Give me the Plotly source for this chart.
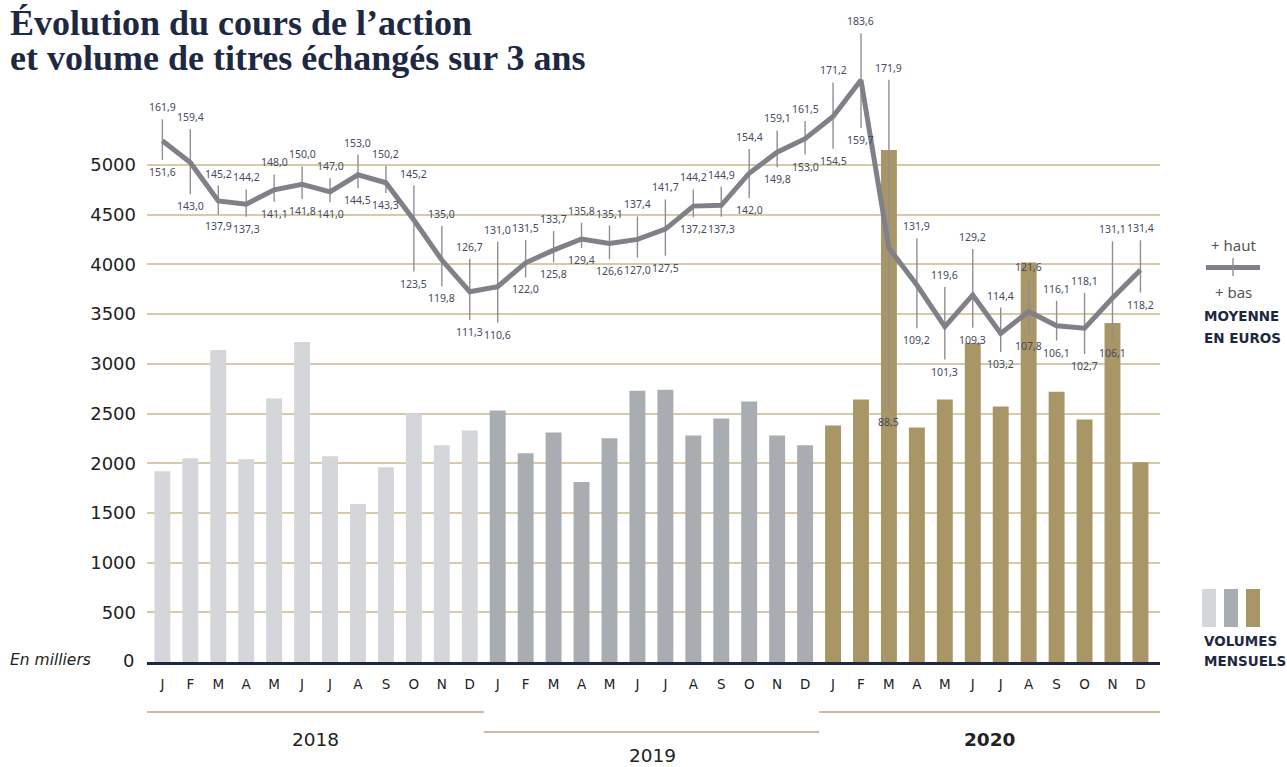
import plotly.graph_objects as go

# ---------------- DATA ----------------
months = ["J", "F", "M", "A", "M", "J", "J", "A", "S", "O", "N", "D"] * 3
years = ["2018", "2019", "2020"]

volumes_2018 = [1920, 2050, 3140, 2040, 2650, 3220, 2070, 1590, 1960, 2500, 2180, 2330]
volumes_2019 = [2530, 2100, 2310, 1810, 2250, 2730, 2740, 2280, 2450, 2620, 2280, 2180]
volumes_2020 = [2380, 2640, 5150, 2360, 2640, 3210, 2570, 4020, 2720, 2440, 3410, 2010]

price_avg = [156.5, 151.0, 141.3, 140.5, 144.1, 145.5, 143.6, 147.9, 145.9, 136.5, 126.4, 118.4,
             119.7, 125.7, 128.9, 131.7, 130.6, 131.6, 134.2, 140.0, 140.2, 148.3, 153.6, 157.0,
             162.6, 171.8, 129.4, 120.1, 109.6, 117.6, 107.9, 113.4, 109.8, 109.2, 116.8, 123.9]
price_high = [161.9, 159.4, 145.2, 144.2, 148.0, 150.0, 147.0, 153.0, 150.2, 145.2, 135.0, 126.7,
              131.0, 131.5, 133.7, 135.8, 135.1, 137.4, 141.7, 144.2, 144.9, 154.4, 159.1, 161.5,
              171.2, 183.6, 171.9, 131.9, 119.6, 129.2, 114.4, 121.6, 116.1, 118.1, 131.1, 131.4]
price_low = [151.6, 143.0, 137.9, 137.3, 141.1, 141.8, 141.0, 144.5, 143.3, 123.5, 119.8, 111.3,
             110.6, 122.0, 125.8, 129.4, 126.6, 127.0, 127.5, 137.2, 137.3, 142.0, 149.8, 153.0,
             154.5, 159.7, 88.5, 109.2, 101.3, 109.3, 103.2, 107.8, 106.1, 102.7, 106.1, 118.2]

y_ticks = [500, 1000, 1500, 2000, 2500, 3000, 3500, 4000, 4500, 5000]

# ---------------- STYLE ----------------
C_2018, C_2019, C_2020 = "#d5d6d9", "#a9acb1", "#a89667"
C_LINE = "#808088"
C_WHISK = "#8e8f94"
C_GRID = "#d6caa8"
C_NAVY = "#1e2842"
C_TXT = "#222222"
C_LBL = "#454a5e"
GOLD_LINE = "#b8a77a"
SANS = "DejaVu Sans"

W, H = 1287, 767
PL, PR, PT, PB = 147, 1160, 20, 662


def fx(xp):
    return (xp - PL) / (PR - PL)


def fy(yp):
    return (PB - yp) / (PB - PT)


def fr(v):
    return f"{v:.1f}".replace(".", ",")


n = len(months)
xs = list(range(n))
YMAX = 6459
Y2MIN, Y2MAX = 25.0, 186.95

fig = go.Figure()

# bars per year
for k, (vals, col) in enumerate([(volumes_2018, C_2018), (volumes_2019, C_2019), (volumes_2020, C_2020)]):
    fig.add_trace(go.Bar(x=xs[12 * k:12 * (k + 1)], y=vals, marker_color=col, width=0.57,
                         marker_line_width=0, showlegend=False, hoverinfo="skip"))

# whiskers
wx, wy = [], []
for i in xs:
    wx += [i, i, None]
    wy += [price_low[i], price_high[i], None]
fig.add_trace(go.Scatter(x=wx, y=wy, yaxis="y2", mode="lines",
                         line=dict(color=C_WHISK, width=1.4), showlegend=False, hoverinfo="skip"))

# average line
fig.add_trace(go.Scatter(x=xs, y=price_avg, yaxis="y2", mode="lines",
                         line=dict(color=C_LINE, width=5), showlegend=False))

annotations = []
for i in xs:
    annotations.append(dict(x=i, y=price_high[i], xref="x", yref="y2", text=fr(price_high[i]),
                            showarrow=False, yanchor="bottom", yshift=3,
                            font=dict(family="Noto Sans", size=10.5, color=C_LBL)))
    annotations.append(dict(x=i, y=price_low[i], xref="x", yref="y2", text=fr(price_low[i]),
                            showarrow=False, yanchor="top", yshift=-3,
                            font=dict(family="Noto Sans", size=10.5, color=C_LBL)))

# title
annotations.append(dict(x=fx(8), y=fy(23), xref="paper", yref="paper", xanchor="left", yanchor="middle",
                        text="<b>Évolution du cours de l’action</b>", showarrow=False,
                        font=dict(family="Liberation Serif", size=36, color=C_NAVY)))
annotations.append(dict(x=fx(8), y=fy(58), xref="paper", yref="paper", xanchor="left", yanchor="middle",
                        text="<b>et volume de titres échangés sur 3 ans</b>", showarrow=False,
                        font=dict(family="Liberation Serif", size=36, color=C_NAVY)))

# y zero + unit
annotations.append(dict(x=fx(136), y=fy(660), xref="paper", yref="paper", xanchor="right", yanchor="middle",
                        text="0", showarrow=False, font=dict(family=SANS, size=18, color=C_TXT)))
annotations.append(dict(x=fx(8), y=fy(660), xref="paper", yref="paper", xanchor="left", yanchor="middle",
                        text="<i>En milliers</i>", showarrow=False,
                        font=dict(family=SANS, size=15.5, color=C_TXT)))

# years
year_pos = [(315, 739, False), (652, 756, False), (990, 739, True)]
for yname, (xp, yp, bold) in zip(years, year_pos):
    annotations.append(dict(x=fx(xp), y=fy(yp), xref="paper", yref="paper", xanchor="center", yanchor="middle",
                            text=f"<b>{yname}</b>" if bold else yname, showarrow=False,
                            font=dict(family=SANS, size=18.5, color=C_TXT)))

# legends text
leg_font = dict(family="Noto Sans", size=15, color="#555555")
annotations.append(dict(x=fx(1233), y=fy(245), xref="paper", yref="paper", xanchor="center", yanchor="middle",
                        text="+ haut", showarrow=False, font=leg_font))
annotations.append(dict(x=fx(1233), y=fy(292), xref="paper", yref="paper", xanchor="center", yanchor="middle",
                        text="+ bas", showarrow=False, font=leg_font))
bold_font = dict(family=SANS, size=13.5, color=C_NAVY)
annotations.append(dict(x=fx(1202), y=fy(316), xref="paper", yref="paper", xanchor="left", yanchor="middle",
                        text="<b>MOYENNE</b>", showarrow=False, font=bold_font))
annotations.append(dict(x=fx(1202), y=fy(338), xref="paper", yref="paper", xanchor="left", yanchor="middle",
                        text="<b>EN EUROS</b>", showarrow=False, font=bold_font))
annotations.append(dict(x=fx(1202), y=fy(641), xref="paper", yref="paper", xanchor="left", yanchor="middle",
                        text="<b>VOLUMES</b>", showarrow=False, font=bold_font))
annotations.append(dict(x=fx(1202), y=fy(661), xref="paper", yref="paper", xanchor="left", yanchor="middle",
                        text="<b>MENSUELS</b>", showarrow=False, font=bold_font))

shapes = []
# year lines
shapes.append(dict(type="line", xref="x", yref="paper", x0=-0.55, x1=11.5, y0=fy(712), y1=fy(712),
                   line=dict(color=GOLD_LINE, width=1.5)))
shapes.append(dict(type="line", xref="x", yref="paper", x0=11.5, x1=23.5, y0=fy(732), y1=fy(732),
                   line=dict(color=GOLD_LINE, width=1.5)))
shapes.append(dict(type="line", xref="x", yref="paper", x0=23.5, x1=35.7, y0=fy(712), y1=fy(712),
                   line=dict(color=GOLD_LINE, width=1.5)))
# legend line symbol
shapes.append(dict(type="line", xref="paper", yref="paper", x0=fx(1206), x1=fx(1260), y0=fy(267.5), y1=fy(267.5),
                   line=dict(color=C_LINE, width=5)))
shapes.append(dict(type="line", xref="paper", yref="paper", x0=fx(1233), x1=fx(1233), y0=fy(258), y1=fy(276),
                   line=dict(color=C_WHISK, width=1.4)))
# legend squares
for x0, col in [(1202, C_2018), (1224, C_2019), (1246, C_2020)]:
    shapes.append(dict(type="rect", xref="paper", yref="paper", x0=fx(x0), x1=fx(x0 + 14),
                       y0=fy(627), y1=fy(589), fillcolor=col, line=dict(width=0)))

fig.update_layout(
    width=W, height=H,
    margin=dict(l=PL, r=W - PR, t=PT, b=H - PB),
    paper_bgcolor="white", plot_bgcolor="white",
    bargap=0.43,
    showlegend=False,
    xaxis=dict(range=[-0.55, 35.7], tickmode="array", tickvals=xs, ticktext=months,
               showgrid=False, zeroline=False, showline=True, linecolor=C_NAVY, linewidth=2.5,
               ticks="", ticklabelstandoff=8,
               tickfont=dict(family=SANS, size=13.5, color=C_TXT), fixedrange=True),
    yaxis=dict(range=[0, YMAX], tickmode="array", tickvals=y_ticks,
               showgrid=True, gridcolor=C_GRID, gridwidth=2, zeroline=False, showline=False,
               ticks="", ticklabelstandoff=10,
               tickfont=dict(family=SANS, size=18, color=C_TXT), fixedrange=True),
    yaxis2=dict(range=[Y2MIN, Y2MAX], overlaying="y", side="right", visible=False, fixedrange=True),
    annotations=annotations,
    shapes=shapes,
)

fig.write_html("out.html", config={"displayModeBar": False},
               post_script="document.body.style.margin='0';document.body.style.overflow='hidden';")
